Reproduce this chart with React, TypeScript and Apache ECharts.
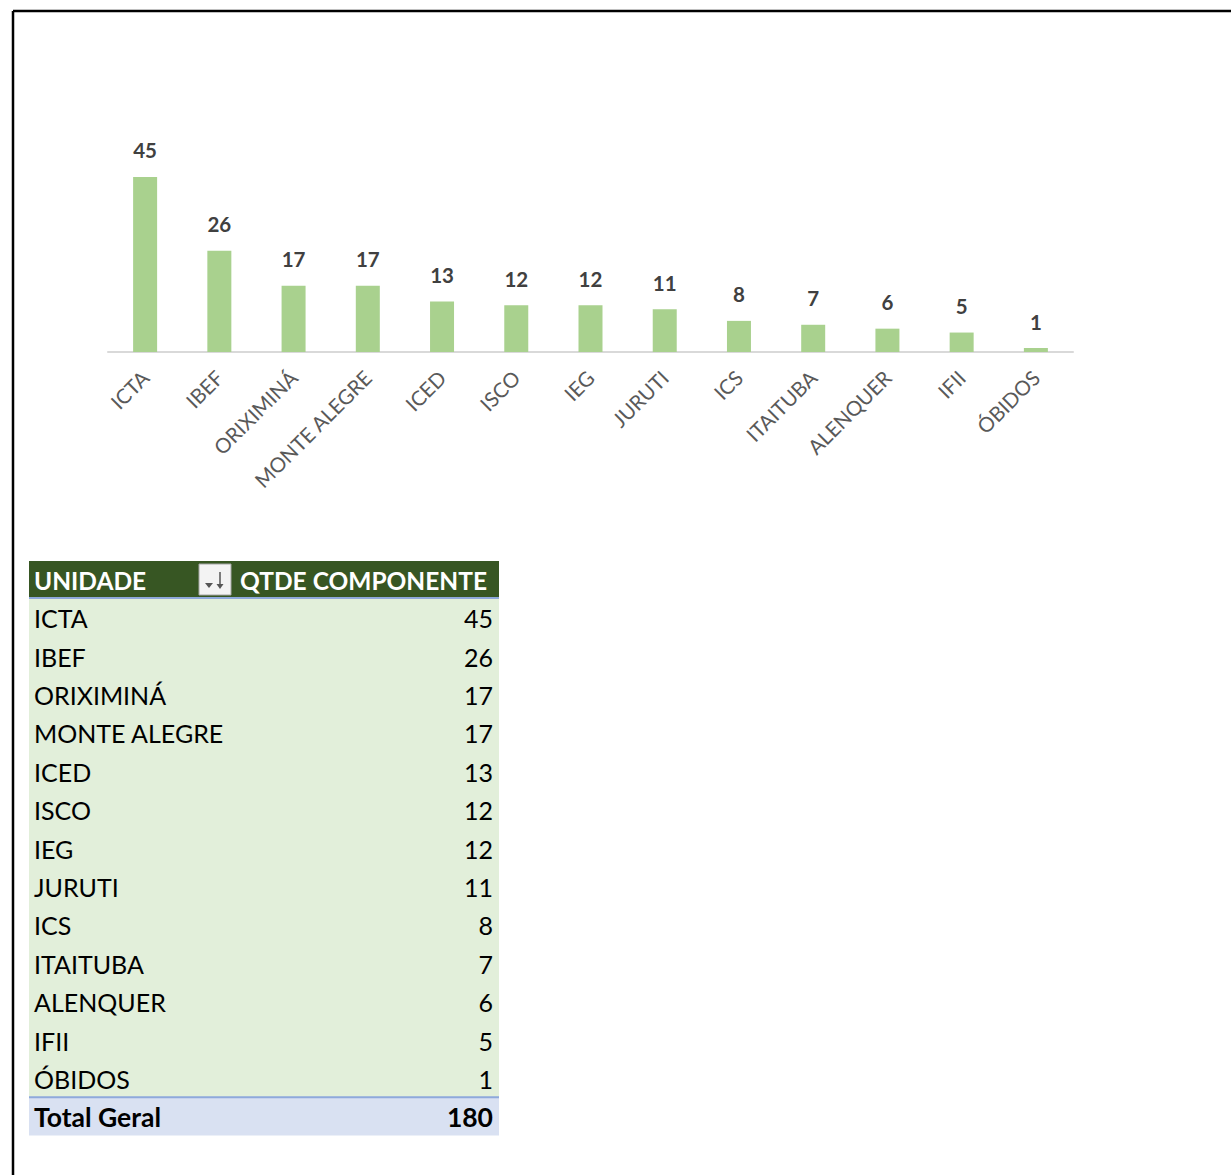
import React, { useEffect, useRef } from "react";
import * as echarts from "echarts";

const categories = ["ICTA", "IBEF", "ORIXIMINÁ", "MONTE ALEGRE", "ICED", "ISCO", "IEG", "JURUTI", "ICS", "ITAITUBA", "ALENQUER", "IFII", "ÓBIDOS"];
const values = [45, 26, 17, 17, 13, 12, 12, 11, 8, 7, 6, 5, 1];
const headerLabels = ["UNIDADE", "QTDE COMPONENTE"];
const totalLabel = "Total Geral";
const totalValue = 180;

const FONT = "Lato, 'Open Sans', sans-serif";

export default function App() {
  const ref = useRef<HTMLDivElement>(null);
  useEffect(() => {
    if (!ref.current) return;
    const chart = echarts.init(ref.current, null, { renderer: "svg" });

    const tX = 29, tW = 470, headTop = 561, headH = 37, rowH = 38.4;
    const bodyTop = headTop + headH;
    const g: any[] = [];
    // frame
    g.push({ type: "line", shape: { x1: 13, y1: 11, x2: 1231, y2: 11 }, style: { stroke: "#000", lineWidth: 2.5 } });
    g.push({ type: "line", shape: { x1: 13, y1: 11, x2: 13, y2: 1175 }, style: { stroke: "#000", lineWidth: 2.5 } });
    // header
    g.push({ type: "rect", shape: { x: tX, y: headTop, width: tW, height: headH }, style: { fill: "#375623" } });
    g.push({ type: "text", x: tX + 5, y: headTop + headH / 2 + 1, style: { text: headerLabels[0], fill: "#fff", font: `bold 24.5px ${FONT}`, verticalAlign: "middle", align: "left" } });
    g.push({ type: "text", x: tX + tW - 12, y: headTop + headH / 2 + 1, style: { text: headerLabels[1], fill: "#fff", font: `bold 24.5px ${FONT}`, verticalAlign: "middle", align: "right" } });
    // filter button
    g.push({ type: "rect", shape: { x: 199, y: 564, width: 32, height: 31 }, style: { fill: "#f3f3f3", stroke: "#a6a6a6", lineWidth: 1 } });
    g.push({ type: "polygon", shape: { points: [[205, 583], [213, 583], [209, 588]] }, style: { fill: "#555" } });
    g.push({ type: "line", shape: { x1: 220, y1: 572, x2: 220, y2: 586 }, style: { stroke: "#555", lineWidth: 1.5 } });
    g.push({ type: "polygon", shape: { points: [[216.5, 584], [223.5, 584], [220, 589]] }, style: { fill: "#555" } });
    // body
    const n = categories.length;
    g.push({ type: "rect", shape: { x: tX, y: bodyTop, width: tW, height: rowH * n }, style: { fill: "#e2efda" } });
    g.push({ type: "line", shape: { x1: tX, y1: bodyTop, x2: tX + tW, y2: bodyTop }, style: { stroke: "#8ea9db", lineWidth: 2 } });
    categories.forEach((c, i) => {
      const cy = bodyTop + rowH * i + rowH / 2 + 1;
      g.push({ type: "text", x: tX + 5, y: cy, style: { text: c, fill: "#000", font: `25px ${FONT}`, verticalAlign: "middle", align: "left" } });
      g.push({ type: "text", x: tX + tW - 6, y: cy, style: { text: String(values[i]), fill: "#000", font: `25px ${FONT}`, verticalAlign: "middle", align: "right" } });
    });
    const totTop = bodyTop + rowH * n;
    g.push({ type: "rect", shape: { x: tX, y: totTop, width: tW, height: rowH }, style: { fill: "#d9e1f2" } });
    g.push({ type: "line", shape: { x1: tX, y1: totTop, x2: tX + tW, y2: totTop }, style: { stroke: "#8ea9db", lineWidth: 2 } });
    g.push({ type: "text", x: tX + 5, y: totTop + rowH / 2 + 1, style: { text: totalLabel, fill: "#000", font: `bold 26.5px ${FONT}`, verticalAlign: "middle", align: "left" } });
    g.push({ type: "text", x: tX + tW - 6, y: totTop + rowH / 2 + 1, style: { text: String(totalValue), fill: "#000", font: `bold 26.5px ${FONT}`, verticalAlign: "middle", align: "right" } });

    chart.setOption({
      animation: false,
      backgroundColor: "#fff",
      grid: { left: 108, top: 157.5, width: 965, height: 194.5, containLabel: false },
      xAxis: {
        type: "category",
        data: categories,
        axisLine: { lineStyle: { color: "#d9d9d9", width: 2 } },
        axisTick: { show: false },
        axisLabel: { rotate: 45, interval: 0, margin: 22, color: "#595959", fontSize: 20.5, fontFamily: FONT },
      },
      yAxis: { type: "value", min: 0, max: 50, show: false, splitLine: { show: false } },
      series: [
        {
          type: "bar",
          data: values,
          barWidth: 24,
          itemStyle: { color: "#a9d18e" },
          label: { show: true, position: "top", distance: 16, color: "#404040", fontSize: 20.5, fontWeight: "bold", fontFamily: FONT },
        },
      ],
      graphic: g,
    });
    return () => chart.dispose();
  }, []);
  return <div ref={ref} style={{ position: "absolute", left: 0, top: 0, width: 1231, height: 1175 }} />;
}
